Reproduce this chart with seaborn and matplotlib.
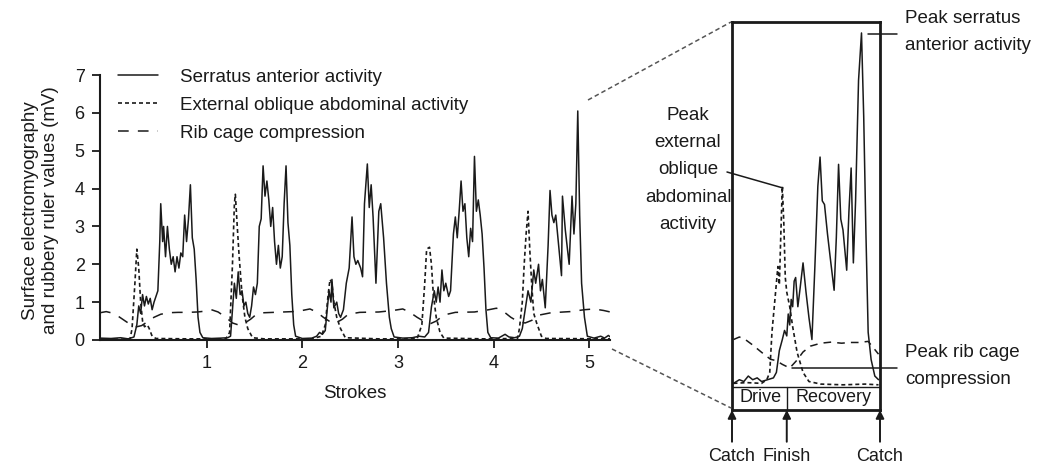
import matplotlib
matplotlib.use("Agg")
import matplotlib.pyplot as plt
import seaborn as sns
from matplotlib.lines import Line2D

# ---- main panel data (x in strokes, y in mV) ----
serratus_x = [-0.115, 0.0, 0.1, 0.18, 0.24, 0.27, 0.29, 0.31, 0.33, 0.35, 0.37, 0.39, 0.41, 0.43, 0.45, 0.47,
              0.49, 0.51, 0.52, 0.54, 0.55, 0.57, 0.59, 0.61, 0.63, 0.65, 0.67, 0.69, 0.71, 0.73, 0.75, 0.77,
              0.79, 0.81, 0.83, 0.85, 0.87, 0.89, 0.91, 0.93, 0.96, 1.05, 1.15, 1.22,
              1.25, 1.27, 1.29, 1.31, 1.33, 1.35, 1.37, 1.39, 1.41, 1.43, 1.45, 1.47, 1.49, 1.51, 1.53, 1.55,
              1.57, 1.59, 1.61, 1.63, 1.65, 1.67, 1.69, 1.71, 1.73, 1.75, 1.77, 1.79, 1.81, 1.83, 1.85, 1.87,
              1.89, 1.91, 1.93, 2.0, 2.1, 2.15, 2.18, 2.21,
              2.24, 2.26, 2.28, 2.30, 2.31, 2.33, 2.36, 2.38, 2.40, 2.43, 2.46, 2.49, 2.52, 2.54, 2.56, 2.58,
              2.61, 2.63, 2.65, 2.68, 2.70, 2.72, 2.74, 2.77, 2.80, 2.82, 2.85, 2.88, 2.91, 2.93, 2.96, 3.05,
              3.15, 3.22, 3.28,
              3.32, 3.35, 3.38, 3.40, 3.42, 3.44, 3.46, 3.48, 3.50, 3.53, 3.55, 3.58, 3.60, 3.62, 3.64, 3.66,
              3.68, 3.70, 3.72, 3.74, 3.76, 3.78, 3.80, 3.82, 3.84, 3.86, 3.88, 3.90, 3.92, 3.94, 3.97, 4.05,
              4.12, 4.16, 4.22, 4.27,
              4.30, 4.33, 4.36, 4.39, 4.42, 4.44, 4.47, 4.49, 4.51, 4.54, 4.57, 4.59, 4.61, 4.63, 4.65, 4.68,
              4.71, 4.72, 4.75, 4.79, 4.82, 4.84, 4.86, 4.88, 4.90, 4.92, 4.95, 4.98, 5.05, 5.12, 5.16, 5.2,
              5.22]
serratus_y = [0.05, 0.04, 0.06, 0.03, 0.08, 0.4, 0.9, 0.7, 1.2, 0.9, 1.15, 0.95, 1.1, 0.8, 1.0, 1.15,
              1.3, 2.6, 3.6, 2.6, 3.0, 2.2, 3.0, 2.4, 2.0, 2.2, 1.8, 2.2, 1.9, 2.3, 2.2, 3.3,
              2.6, 3.2, 4.1, 2.7, 2.4, 1.6, 0.6, 0.2, 0.06, 0.04, 0.05, 0.06,
              0.1, 0.8, 1.5, 1.1, 1.8, 1.2, 1.3, 0.9, 1.0, 0.7, 0.6, 0.9, 1.4, 1.2, 1.5, 3.0,
              3.2, 4.6, 3.8, 4.2, 3.7, 3.0, 3.5, 2.6, 2.0, 2.5, 1.9, 2.2, 3.6, 4.6, 3.1, 2.5,
              1.2, 0.4, 0.1, 0.04, 0.05, 0.1, 0.2, 0.15,
              0.25, 0.8, 1.3, 1.0, 1.6, 0.85, 1.0, 0.7, 0.6, 0.8, 1.5, 1.9, 3.25, 2.2, 2.0, 2.1,
              1.9, 1.67, 3.6, 4.65, 3.5, 4.1, 3.25, 1.5, 3.4, 3.6, 2.7, 1.5, 0.6, 0.3, 0.08, 0.05,
              0.06, 0.1, 0.08,
              0.2, 0.87, 1.3, 1.0, 1.4, 1.0, 1.85, 1.3, 1.5, 1.15, 1.3, 2.8, 3.25, 2.7, 3.4, 4.2,
              3.4, 3.6, 2.7, 2.2, 2.95, 2.6, 4.85, 3.4, 3.7, 3.3, 2.8, 1.9, 0.8, 0.2, 0.06, 0.05,
              0.15, 0.08, 0.06, 0.1,
              0.3, 0.8, 1.3, 1.0, 1.85, 1.5, 2.0, 1.3, 1.6, 0.85, 2.5, 3.95, 3.3, 3.1, 3.3, 2.5,
              1.7, 3.8, 2.9, 2.0, 3.8, 2.8, 3.6, 6.05, 3.3, 1.5, 0.6, 0.1, 0.05, 0.1, 0.05, 0.12,
              0.08]

oblique_x = [-0.115, 0.1, 0.2, 0.22, 0.25, 0.27, 0.29, 0.31, 0.33, 0.35, 0.38, 0.40, 0.43, 0.47, 0.8,
             1.2, 1.24, 1.27, 1.29, 1.30, 1.32, 1.34, 1.37, 1.40, 1.43, 1.48, 1.6,
             2.1, 2.2, 2.24, 2.27, 2.29, 2.31, 2.33, 2.36, 2.40, 2.45, 2.8,
             3.2, 3.25, 3.28, 3.30, 3.33, 3.35, 3.37, 3.40, 3.44, 3.48, 3.9,
             4.25, 4.27, 4.30, 4.32, 4.34, 4.36, 4.38, 4.40, 4.42, 4.45, 4.50, 4.55, 5.22]
oblique_y = [0.03, 0.02, 0.03, 0.3, 1.5, 2.4, 1.9, 1.0, 0.5, 0.35, 0.4, 0.3, 0.1, 0.04, 0.03,
             0.03, 0.2, 2.0, 3.6, 3.85, 3.0, 2.2, 1.2, 0.6, 0.3, 0.06, 0.03,
             0.03, 0.1, 0.4, 1.2, 1.6, 1.5, 1.0, 0.6, 0.3, 0.06, 0.03,
             0.03, 0.4, 1.5, 2.4, 2.45, 2.0, 1.2, 0.6, 0.2, 0.05, 0.03,
             0.04, 0.3, 1.0, 2.0, 2.8, 3.4, 2.3, 1.4, 0.7, 0.45, 0.1, 0.04, 0.03]

ribcage_x = [-0.115, -0.05, 0.0, 0.08, 0.15, 0.22, 0.27, 0.32, 0.38, 0.45, 0.52, 0.6, 0.7, 0.8, 0.9, 0.98,
             1.05, 1.12, 1.2, 1.27, 1.33, 1.40, 1.46, 1.52, 1.6, 1.7, 1.8, 1.9, 2.0, 2.08, 2.15, 2.22,
             2.28, 2.35, 2.42, 2.48, 2.6, 2.8, 2.95, 3.05, 3.12, 3.2, 3.28, 3.33, 3.40, 3.48, 3.6, 3.8,
             3.95, 4.03, 4.1, 4.18, 4.26, 4.33, 4.40, 4.48, 4.6, 4.8, 4.95, 5.05, 5.15, 5.22]
ribcage_y = [0.72, 0.75, 0.72, 0.62, 0.5, 0.38, 0.35, 0.38, 0.48, 0.6, 0.68, 0.72, 0.73, 0.73, 0.74, 0.76,
             0.8, 0.74, 0.6, 0.45, 0.4, 0.45, 0.55, 0.68, 0.72, 0.73, 0.74, 0.75, 0.78, 0.82, 0.74, 0.6,
             0.5, 0.45, 0.55, 0.68, 0.73, 0.74, 0.78, 0.82, 0.74, 0.6, 0.48, 0.42, 0.5, 0.66, 0.73, 0.74,
             0.8, 0.84, 0.76, 0.6, 0.48, 0.45, 0.52, 0.66, 0.72, 0.75, 0.8, 0.82, 0.78, 0.74]

x_ticks = [1, 2, 3, 4, 5]
y_ticks = [0, 1, 2, 3, 4, 5, 6, 7]

# ---- inset (one stroke, catch to catch) ----
ins_serratus_u = [0.01, 0.05, 0.08, 0.11, 0.14, 0.17, 0.2, 0.24, 0.28, 0.30, 0.32, 0.34, 0.355, 0.37, 0.38,
                  0.39, 0.40, 0.41, 0.42, 0.43, 0.445, 0.46, 0.48, 0.50, 0.52, 0.54, 0.56, 0.58, 0.595,
                  0.61, 0.625, 0.645, 0.665, 0.69, 0.705, 0.72, 0.735, 0.75, 0.775, 0.79, 0.805, 0.82,
                  0.835, 0.855, 0.875, 0.89, 0.905, 0.92, 0.94, 0.965, 0.99]
ins_serratus_v = [0.1, 0.2, 0.15, 0.3, 0.2, 0.25, 0.15, 0.2, 0.25, 0.4, 1.0, 1.3, 1.55, 1.4, 2.0,
                  1.7, 2.4, 2.2, 2.9, 3.0, 2.2, 2.7, 3.4, 2.6, 1.9, 1.3, 3.3, 5.5, 6.3,
                  5.1, 5.0, 4.2, 3.5, 2.65, 4.1, 6.1, 4.6, 4.3, 3.2, 4.8, 6.0, 3.4,
                  5.1, 8.4, 9.7, 7.4, 4.2, 1.5, 0.75, 0.3, 0.2]
ins_oblique_u = [0.01, 0.1, 0.2, 0.235, 0.255, 0.27, 0.29, 0.31, 0.32, 0.33, 0.34, 0.35, 0.36, 0.37,
                 0.39, 0.41, 0.44, 0.48, 0.52, 0.6, 0.75, 0.9, 0.99]
ins_oblique_v = [0.1, 0.12, 0.1, 0.2, 0.4, 1.5, 2.4, 3.3, 2.8, 4.2, 5.5, 4.5, 3.0, 2.6,
                 2.2, 1.65, 0.95, 0.4, 0.15, 0.08, 0.06, 0.08, 0.06]
ins_ribcage_u = [0.01, 0.05, 0.09, 0.14, 0.2, 0.26, 0.3, 0.34, 0.39, 0.44, 0.48, 0.53, 0.6, 0.67, 0.74,
                 0.8, 0.86, 0.92, 0.96, 0.99]
ins_ribcage_v = [1.3, 1.37, 1.3, 1.15, 0.95, 0.76, 0.72, 0.62, 0.52, 0.74, 0.96, 1.12, 1.2, 1.23, 1.2,
                 1.22, 1.22, 1.25, 1.05, 0.9]

W, H = 1038, 466


def fx(px):
    return px / W


def fy(py):
    return 1 - py / H


sns.set_style("ticks")
plt.rcParams['font.family'] = ['Liberation Sans', 'DejaVu Sans']
ink = '#1a1a1a'
fs = 13.5

fig = plt.figure(figsize=(10.38, 4.66), dpi=100)
ax = fig.add_axes([fx(100), fy(340), fx(610) - fx(100), fy(75) - fy(340)])

obl_dash = (0, (2.4, 1.8))
sns.lineplot(x=serratus_x, y=serratus_y, ax=ax, estimator=None, sort=False,
             label='Serratus anterior activity', color=ink, lw=1.1)
sns.lineplot(x=oblique_x, y=oblique_y, ax=ax, estimator=None, sort=False,
             label='External oblique abdominal activity', color=ink, lw=1.2, linestyle=obl_dash)
sns.lineplot(x=ribcage_x, y=ribcage_y, ax=ax, estimator=None, sort=False,
             label='Rib cage compression', color=ink, lw=1.1, linestyle=(0, (7, 6)))

ax.set_xlim(-0.115, 5.217)
ax.set_ylim(0, 7)
ax.set_xticks(x_ticks)
ax.set_yticks(y_ticks)
ax.tick_params(direction='out', length=6, width=1.3, pad=5, labelsize=13, colors=ink)
for s in ['left', 'bottom']:
    ax.spines[s].set_linewidth(1.5)
    ax.spines[s].set_color(ink)
sns.despine(ax=ax)
ax.set_xlabel('Strokes', fontsize=fs, color=ink)
ax.xaxis.set_label_coords(0.5, -0.17)
ax.set_ylabel('Surface electromyography\nand rubbery ruler values (mV)', fontsize=fs, color=ink,
              linespacing=1.25)
ax.yaxis.set_label_coords(-0.08, 0.49)
ax.legend(loc='upper left', bbox_to_anchor=(0.035, 1.024), frameon=False, fontsize=fs,
          handlelength=2.13, handletextpad=1.17, labelspacing=0.58, borderpad=0, borderaxespad=0,
          labelcolor=ink)

# ---- inset ----
ax2 = fig.add_axes([fx(732), fy(410), fx(880) - fx(732), fy(22) - fy(410)])
sns.lineplot(x=ins_serratus_u, y=ins_serratus_v, ax=ax2, estimator=None, sort=False, color=ink, lw=1.1)
sns.lineplot(x=ins_oblique_u, y=ins_oblique_v, ax=ax2, estimator=None, sort=False,
             color=ink, lw=1.2, linestyle=obl_dash)
sns.lineplot(x=ins_ribcage_u, y=ins_ribcage_v, ax=ax2, estimator=None, sort=False,
             color=ink, lw=1.1, linestyle=(0, (5, 4)))
ax2.set_xlim(0, 1)
ax2.set_ylim(-0.63, 10)
ax2.set_xticks([])
ax2.set_yticks([])
for s in ax2.spines.values():
    s.set_visible(True)
    s.set_linewidth(2.0)
    s.set_color(ink)
finish_u = 0.37
ax2.axhline(0, color=ink, lw=1.0)
ax2.plot([finish_u, finish_u], [-0.63, 0], color=ink, lw=1.0)
ax2.text(0.19, -0.3, 'Drive', ha='center', va='center', fontsize=13, color=ink)
ax2.text(0.685, -0.3, 'Recovery', ha='center', va='center', fontsize=13, color=ink)
for u, lab in [(0, 'Catch'), (finish_u, 'Finish'), (1, 'Catch')]:
    ax2.annotate('', xy=(u, -0.63), xytext=(u, -1.5), annotation_clip=False,
                 arrowprops=dict(arrowstyle='-|>', color=ink, lw=1.4, mutation_scale=12,
                                 shrinkA=0, shrinkB=0))
    ax2.text(u, -1.9, lab, ha='center', va='center', fontsize=13, color=ink, clip_on=False)

# zoom connectors and leader lines
fig.add_artist(Line2D([fx(588), fx(731)], [fy(100), fy(22)], color='#555555', lw=1.1,
                      linestyle=(0, (3, 2))))
fig.add_artist(Line2D([fx(612), fx(731)], [fy(349), fy(408)], color='#555555', lw=1.1,
                      linestyle=(0, (3, 2))))
fig.add_artist(Line2D([fx(868), fx(897)], [fy(34), fy(34)], color=ink, lw=1.1))
fig.add_artist(Line2D([fx(792), fx(897)], [fy(368), fy(368)], color=ink, lw=1.1))
fig.add_artist(Line2D([fx(727), fx(783)], [fy(172), fy(188)], color=ink, lw=1.1))

fig.text(fx(905), fy(32), 'Peak serratus\nanterior activity', ha='left', va='center',
         fontsize=fs, color=ink, linespacing=1.75)
fig.text(fx(905), fy(366), 'Peak rib cage\ncompression', ha='left', va='center',
         fontsize=fs, color=ink, linespacing=1.75)
fig.text(fx(688), fy(170), 'Peak\nexternal\noblique\nabdominal\nactivity', ha='center', va='center',
         fontsize=fs, color=ink, linespacing=1.8)

fig.savefig('out.png', dpi=100)
